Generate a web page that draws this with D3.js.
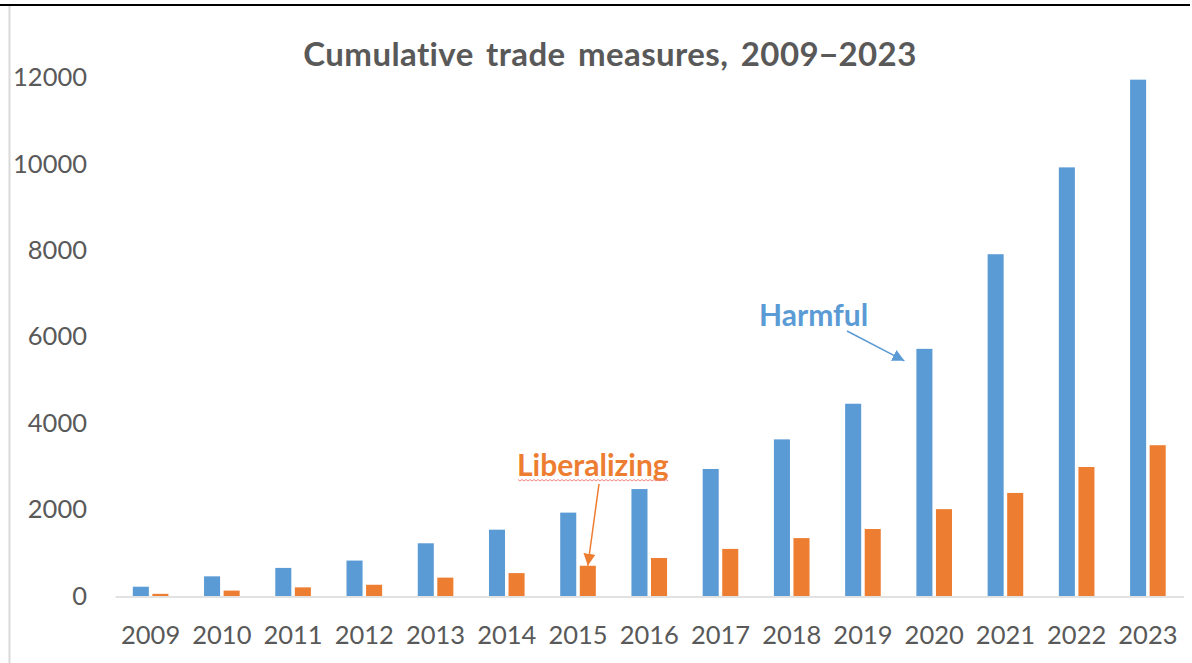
<!DOCTYPE html>
<html>
<head>
<meta charset="utf-8">
<script src="https://cdn.jsdelivr.net/npm/d3@7"></script>
<style>
  html, body { margin: 0; padding: 0; background: #fff; }
  svg { display: block; }
  text { font-family: Lato, "Open Sans", sans-serif; }
</style>
</head>
<body>
<div id="chart"></div>
<script>
// Chart data
const years = ['2009', '2010', '2011', '2012', '2013', '2014', '2015', '2016',
               '2017', '2018', '2019', '2020', '2021', '2022', '2023'];
const harmful = [215, 455, 650, 820, 1220, 1535, 1930, 2475, 2940, 3625, 4450, 5720, 7910, 9920, 11950];
const liberalizing = [50, 125, 200, 260, 425, 530, 700, 880, 1090, 1340, 1550, 2010, 2385, 2985, 3490];
const yTicks = [0, 2000, 4000, 6000, 8000, 10000, 12000];
const seriesNames = ['Harmful', 'Liberalizing'];
const colors = { Harmful: '#5B9BD5', Liberalizing: '#ED7D31' };

const width = 1192;
const height = 663;
const plot = { left: 115, right: 1183.5, top: 77.5, bottom: 596 };

const svg = d3.select('#chart')
    .append('svg')
    .attr('width', width)
    .attr('height', height);

// Frame lines
svg.append('line')
    .attr('x1', 0).attr('x2', 1190)
    .attr('y1', 5).attr('y2', 5)
    .attr('stroke', '#000').attr('stroke-width', 2);
svg.append('line')
    .attr('x1', 9.5).attr('x2', 9.5)
    .attr('y1', 6).attr('y2', height)
    .attr('stroke', '#D9D9D9').attr('stroke-width', 2);

// Scales
const x0 = d3.scaleBand()
    .domain(years)
    .range([plot.left, plot.right])
    .paddingInner(0.5)
    .paddingOuter(0.25);

const x1 = d3.scaleBand()
    .domain(seriesNames)
    .range([0, x0.bandwidth()])
    .paddingInner(0.18);

const y = d3.scaleLinear()
    .domain([0, 12000])
    .range([plot.bottom, plot.top]);

const rows = years.map((yr, i) => ({
    year: yr,
    values: [
        { key: 'Harmful', value: harmful[i] },
        { key: 'Liberalizing', value: liberalizing[i] }
    ]
}));

// Title
svg.append('text')
    .attr('x', 610)
    .attr('y', 66)
    .attr('text-anchor', 'middle')
    .attr('font-size', 33)
    .attr('font-weight', 700)
    .attr('fill', '#595959')
    .attr('letter-spacing', 0.4)
    .attr('word-spacing', 4)
    .text('Cumulative trade measures, 2009\u22122023');

// Y axis (labels only)
const yAxis = svg.append('g')
    .attr('transform', `translate(${plot.left},0)`)
    .call(d3.axisLeft(y).tickValues(yTicks).tickSize(0).tickPadding(28).tickFormat(d3.format('d')));
yAxis.select('.domain').remove();
yAxis.selectAll('text')
    .attr('font-size', 25.5)
    .attr('fill', '#595959')
    .style('font-family', 'Lato, "Open Sans", sans-serif');

// Bars
const groups = svg.append('g')
    .selectAll('g')
    .data(rows)
    .join('g')
    .attr('transform', d => `translate(${x0(d.year)},0)`);

groups.selectAll('rect')
    .data(d => d.values)
    .join('rect')
    .attr('x', d => x1(d.key))
    .attr('y', d => y(d.value))
    .attr('width', x1.bandwidth())
    .attr('height', d => y(0) - y(d.value))
    .attr('fill', d => colors[d.key]);

// X axis
const xAxis = svg.append('g')
    .attr('transform', `translate(0,${plot.bottom + 0.5})`)
    .call(d3.axisBottom(x0).tickSize(0).tickSizeOuter(0).tickPadding(29));
xAxis.select('.domain')
    .attr('stroke', '#D9D9D9')
    .attr('stroke-width', 1.5);
xAxis.selectAll('text')
    .attr('font-size', 25.5)
    .attr('fill', '#595959')
    .style('font-family', 'Lato, "Open Sans", sans-serif');

// Arrow markers
const defs = svg.append('defs');
seriesNames.forEach(name => {
    defs.append('marker')
        .attr('id', 'arrow-' + name)
        .attr('viewBox', '0 0 10 10')
        .attr('refX', 10)
        .attr('refY', 5)
        .attr('markerWidth', 12)
        .attr('markerHeight', 12)
        .attr('markerUnits', 'userSpaceOnUse')
        .attr('orient', 'auto')
        .append('path')
        .attr('d', 'M0,0 L10,5 L0,10 Z')
        .attr('fill', colors[name]);
});

// Harmful annotation, pointing at the 2020 bar
const hx = x0('2020') + x1('Harmful');
const hy = y(harmful[years.indexOf('2020')]);
svg.append('text')
    .attr('x', 759)
    .attr('y', 326)
    .attr('font-size', 30)
    .attr('font-weight', 700)
    .attr('fill', colors.Harmful)
    .text('Harmful');
svg.append('line')
    .attr('x1', 847).attr('y1', 331)
    .attr('x2', hx - 12).attr('y2', hy + 12)
    .attr('stroke', colors.Harmful)
    .attr('stroke-width', 1.5)
    .attr('marker-end', 'url(#arrow-Harmful)');

// Liberalizing annotation, pointing at the 2015 bar
const lx = x0('2015') + x1('Liberalizing') + x1.bandwidth() / 2;
const ly = y(liberalizing[years.indexOf('2015')]);
svg.append('text')
    .attr('x', 517)
    .attr('y', 476)
    .attr('font-size', 30)
    .attr('font-weight', 700)
    .attr('fill', colors.Liberalizing)
    .text('Liberalizing');
svg.append('line')
    .attr('x1', 599).attr('y1', 484)
    .attr('x2', lx).attr('y2', ly)
    .attr('stroke', colors.Liberalizing)
    .attr('stroke-width', 1.5)
    .attr('marker-end', 'url(#arrow-Liberalizing)');

// spell-check squiggle under "Liberalizing"
const squiggle = d3.path();
squiggle.moveTo(518, 479.5);
for (let sx = 518, k = 0; sx < 668; sx += 2, k++) {
    squiggle.lineTo(sx + 2, k % 2 ? 479.5 : 481);
}
svg.append('path')
    .attr('d', squiggle.toString())
    .attr('fill', 'none')
    .attr('stroke', '#EE7B7B')
    .attr('stroke-width', 0.9);
</script>
</body>
</html>
